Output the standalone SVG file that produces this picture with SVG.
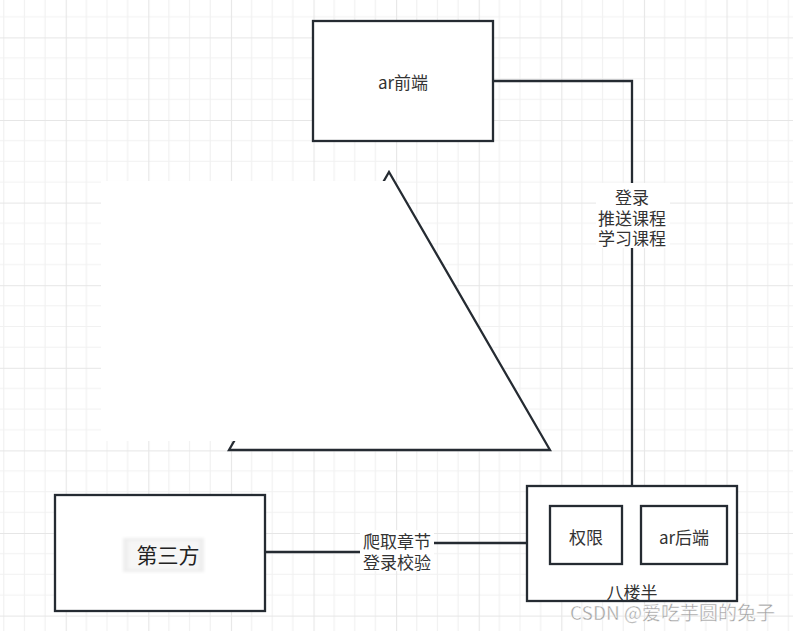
<svg xmlns="http://www.w3.org/2000/svg" width="793" height="631" viewBox="0 0 793 631">
  <style>
    .box { fill: #ffffff; stroke: #252b32; stroke-width: 2.3; }
    .edge { fill: none; stroke: #252b32; stroke-width: 2.3; }
    .txt { font-family: "Noto Sans CJK SC", "Noto Sans", sans-serif; font-size: 17px; fill: #333333; text-anchor: middle; dominant-baseline: central; }
    .lbl-bg { fill: #ffffff; }
  </style>
  <defs>
    <pattern id="grid" patternUnits="userSpaceOnUse" x="65.7" y="37.4" width="82.6" height="82.6">
      <path d="M20.65 0V82.6M41.3 0V82.6M61.95 0V82.6M0 20.65H82.6M0 41.3H82.6M0 61.95H82.6" stroke="#f1f1f1" stroke-width="1.2" fill="none"/>
      <path d="M0.5 0V82.6M0 0.5H82.6" stroke="#e6e6e6" stroke-width="1.2" fill="none"/>
    </pattern>
    <filter id="soft" x="-20%" y="-30%" width="140%" height="160%">
      <feGaussianBlur stdDeviation="1.5"/>
    </filter>
  </defs>

  <rect x="0" y="0" width="793" height="631" fill="#ffffff"/>
  <rect x="0" y="0" width="793" height="631" fill="url(#grid)"/>

  <!-- triangle shape with white overlay -->
  <g id="triangle">
    <polygon points="389,172 550,450 229,450" fill="#ffffff" stroke="#252b32" stroke-width="2.3" stroke-linejoin="miter"/>
    <rect x="101" y="181" width="289" height="260" fill="#ffffff"/>
  </g>

  <g id="connectors">
    <path class="edge" d="M493 81H632V486"/>
    <path class="edge" d="M265 552H397V543H527"/>
    <rect class="lbl-bg" x="596" y="183" width="74" height="65"/>
    <text class="txt" x="632" y="196.5">登录</text>
    <text class="txt" x="632" y="217">推送课程</text>
    <text class="txt" x="632" y="237.5">学习课程</text>
    <rect class="lbl-bg" x="360" y="530" width="74" height="41"/>
    <text class="txt" x="397" y="540">爬取章节</text>
    <text class="txt" x="397" y="561">登录校验</text>
  </g>

  <g id="node-ar-frontend">
    <rect class="box" x="313" y="21" width="180" height="120"/>
    <text class="txt" x="403" y="81">ar前端</text>
  </g>

  <g id="node-third-party">
    <rect class="box" x="55" y="495" width="210" height="116"/>
    <rect x="123" y="538" width="81" height="34" fill="#eeeeee" filter="url(#soft)"/>
    <rect x="128" y="541" width="71" height="28" fill="#f6f6f6" filter="url(#soft)"/>
    <text class="txt" x="168" y="554" style="font-size:21px; fill:#222222">第三方</text>
  </g>

  <g id="node-balouban">
    <rect class="box" x="527" y="486" width="210" height="115"/>
    <text class="txt" x="632" y="591">八楼半</text>
  </g>

  <g id="node-quanxian">
    <rect class="box" x="550" y="506" width="72" height="58"/>
    <text class="txt" x="586" y="536.5">权限</text>
  </g>

  <g id="node-ar-backend">
    <rect class="box" x="641" y="506" width="86" height="58"/>
    <text class="txt" x="684" y="536.5">ar后端</text>
  </g>

  <text x="672.5" y="611" style="font-family:'Noto Sans CJK SC','Noto Sans',sans-serif; font-size:19px; fill:#a0a0a0; text-anchor:middle; dominant-baseline:central; stroke:#ffffff; stroke-width:0.4">CSDN @爱吃芋圆的兔子</text>
</svg>
